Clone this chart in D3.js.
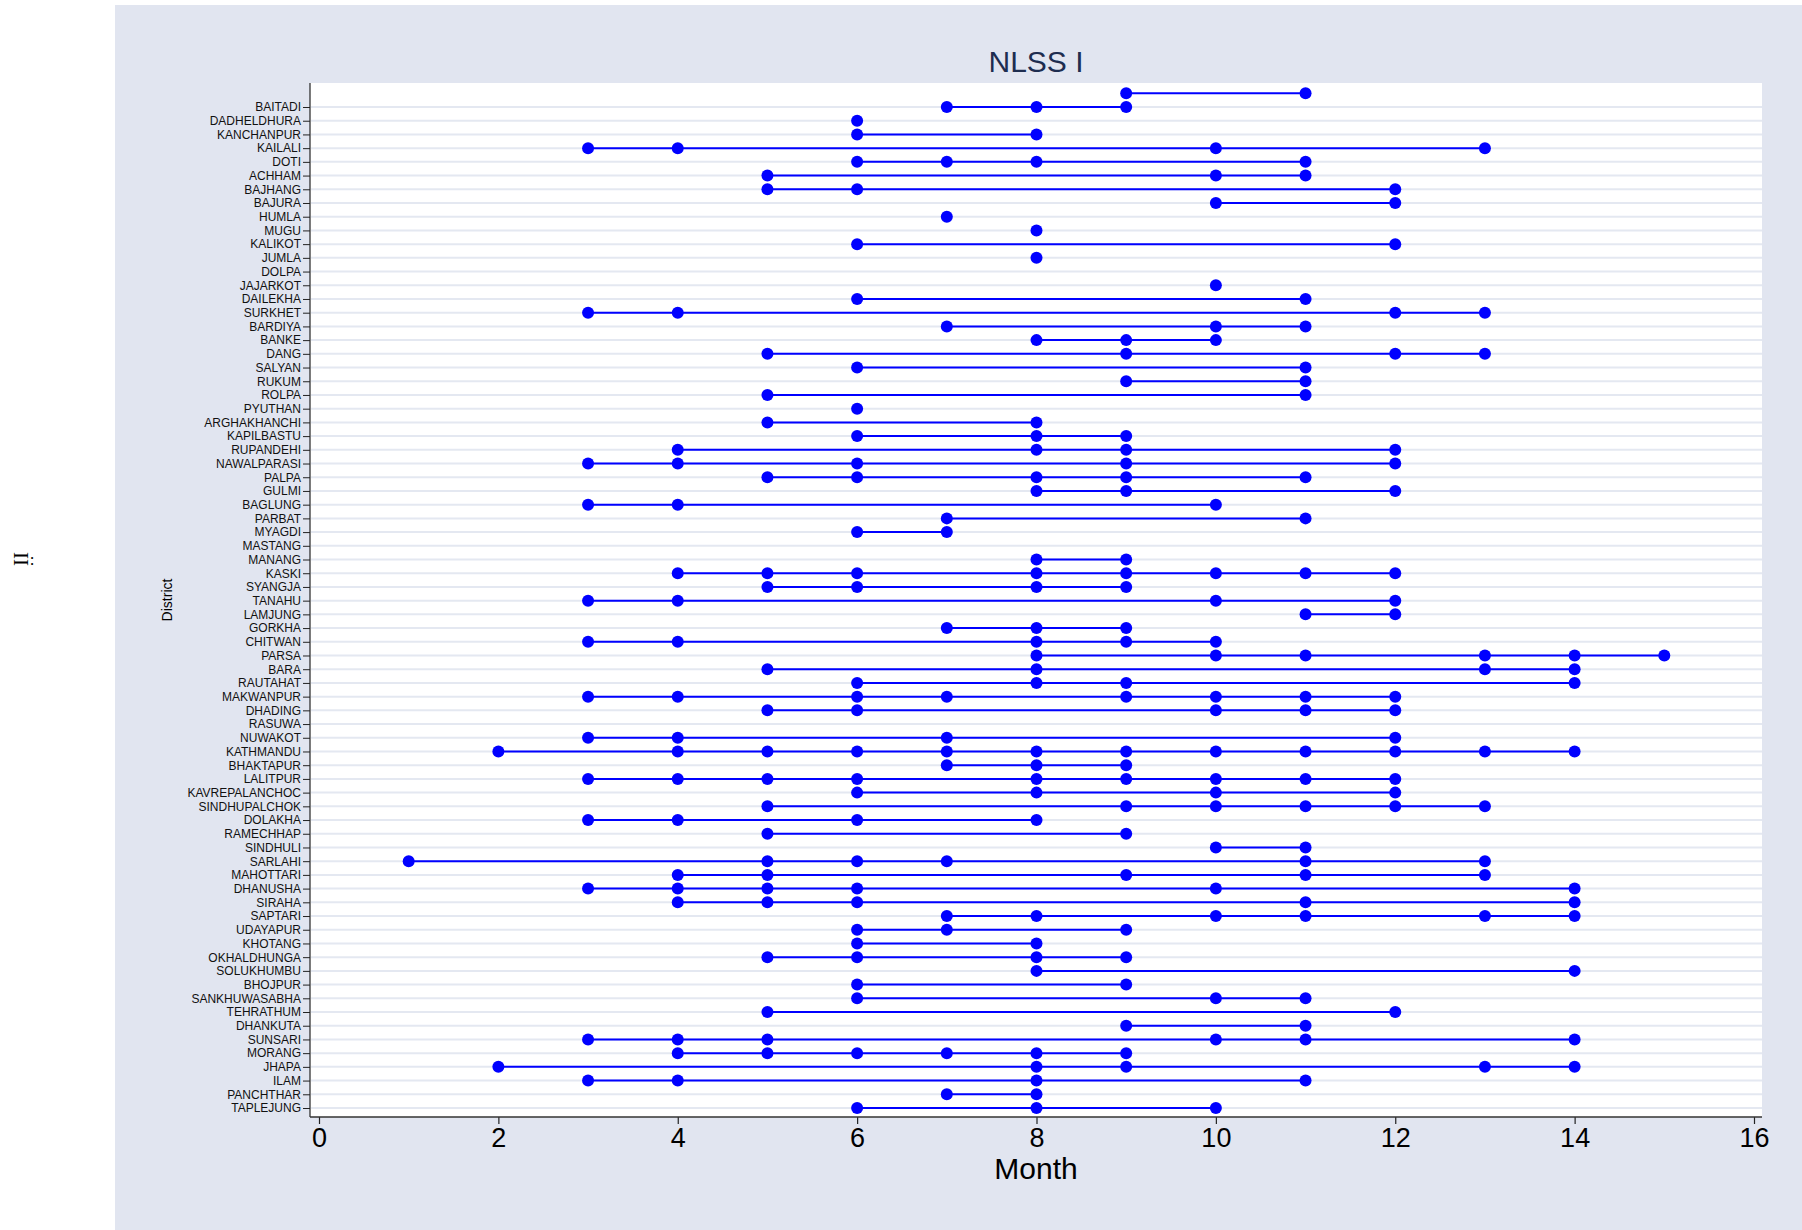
<!DOCTYPE html>
<html>
<head>
<meta charset="utf-8">
<script src="https://cdn.jsdelivr.net/npm/d3@7"></script>
<style>
  html, body { margin: 0; padding: 0; background: #ffffff; }
  svg { display: block; }
</style>
</head>
<body>
<script>
// ---- DATA ----
const districts = ["", "BAITADI", "DADHELDHURA", "KANCHANPUR", "KAILALI", "DOTI", "ACHHAM", "BAJHANG", "BAJURA",
  "HUMLA", "MUGU", "KALIKOT", "JUMLA", "DOLPA", "JAJARKOT", "DAILEKHA", "SURKHET", "BARDIYA", "BANKE",
  "DANG", "SALYAN", "RUKUM", "ROLPA", "PYUTHAN", "ARGHAKHANCHI", "KAPILBASTU", "RUPANDEHI", "NAWALPARASI",
  "PALPA", "GULMI", "BAGLUNG", "PARBAT", "MYAGDI", "MASTANG", "MANANG", "KASKI", "SYANGJA", "TANAHU",
  "LAMJUNG", "GORKHA", "CHITWAN", "PARSA", "BARA", "RAUTAHAT", "MAKWANPUR", "DHADING", "RASUWA", "NUWAKOT",
  "KATHMANDU", "BHAKTAPUR", "LALITPUR", "KAVREPALANCHOC", "SINDHUPALCHOK", "DOLAKHA", "RAMECHHAP",
  "SINDHULI", "SARLAHI", "MAHOTTARI", "DHANUSHA", "SIRAHA", "SAPTARI", "UDAYAPUR", "KHOTANG",
  "OKHALDHUNGA", "SOLUKHUMBU", "BHOJPUR", "SANKHUWASABHA", "TEHRATHUM", "DHANKUTA", "SUNSARI",
  "MORANG", "JHAPA", "ILAM", "PANCHTHAR", "TAPLEJUNG"];

const months = [
  [9, 11],                 // (no label)
  [7, 8, 9],               // BAITADI
  [6],                     // DADHELDHURA
  [6, 8],                  // KANCHANPUR
  [3, 4, 10, 13],          // KAILALI
  [6, 7, 8, 11],           // DOTI
  [5, 10, 11],             // ACHHAM
  [5, 6, 12],              // BAJHANG
  [10, 12],                // BAJURA
  [7],                     // HUMLA
  [8],                     // MUGU
  [6, 12],                 // KALIKOT
  [8],                     // JUMLA
  [],                      // DOLPA
  [10],                    // JAJARKOT
  [6, 11],                 // DAILEKHA
  [3, 4, 12, 13],          // SURKHET
  [7, 10, 11],             // BARDIYA
  [8, 9, 10],              // BANKE
  [5, 9, 12, 13],          // DANG
  [6, 11],                 // SALYAN
  [9, 11],                 // RUKUM
  [5, 11],                 // ROLPA
  [6],                     // PYUTHAN
  [5, 8],                  // ARGHAKHANCHI
  [6, 8, 9],               // KAPILBASTU
  [4, 8, 9, 12],           // RUPANDEHI
  [3, 4, 6, 9, 12],        // NAWALPARASI
  [5, 6, 8, 9, 11],        // PALPA
  [8, 9, 12],              // GULMI
  [3, 4, 10],              // BAGLUNG
  [7, 11],                 // PARBAT
  [6, 7],                  // MYAGDI
  [],                      // MASTANG
  [8, 9],                  // MANANG
  [4, 5, 6, 8, 9, 10, 11, 12], // KASKI
  [5, 6, 8, 9],            // SYANGJA
  [3, 4, 10, 12],          // TANAHU
  [11, 12],                // LAMJUNG
  [7, 8, 9],               // GORKHA
  [3, 4, 8, 9, 10],        // CHITWAN
  [8, 10, 11, 13, 14, 15], // PARSA
  [5, 8, 13, 14],          // BARA
  [6, 8, 9, 14],           // RAUTAHAT
  [3, 4, 6, 7, 9, 10, 11, 12], // MAKWANPUR
  [5, 6, 10, 11, 12],      // DHADING
  [],                      // RASUWA
  [3, 4, 7, 12],           // NUWAKOT
  [2, 4, 5, 6, 7, 8, 9, 10, 11, 12, 13, 14], // KATHMANDU
  [7, 8, 9],               // BHAKTAPUR
  [3, 4, 5, 6, 8, 9, 10, 11, 12], // LALITPUR
  [6, 8, 10, 12],          // KAVREPALANCHOC
  [5, 9, 10, 11, 12, 13],  // SINDHUPALCHOK
  [3, 4, 6, 8],            // DOLAKHA
  [5, 9],                  // RAMECHHAP
  [10, 11],                // SINDHULI
  [1, 5, 6, 7, 11, 13],    // SARLAHI
  [4, 5, 9, 11, 13],       // MAHOTTARI
  [3, 4, 5, 6, 10, 14],    // DHANUSHA
  [4, 5, 6, 11, 14],       // SIRAHA
  [7, 8, 10, 11, 13, 14],  // SAPTARI
  [6, 7, 9],               // UDAYAPUR
  [6, 8],                  // KHOTANG
  [5, 6, 8, 9],            // OKHALDHUNGA
  [8, 14],                 // SOLUKHUMBU
  [6, 9],                  // BHOJPUR
  [6, 10, 11],             // SANKHUWASABHA
  [5, 12],                 // TEHRATHUM
  [9, 11],                 // DHANKUTA
  [3, 4, 5, 10, 11, 14],   // SUNSARI
  [4, 5, 6, 7, 8, 9],      // MORANG
  [2, 8, 9, 13, 14],       // JHAPA
  [3, 4, 8, 11],           // ILAM
  [7, 8],                  // PANCHTHAR
  [6, 8, 10]               // TAPLEJUNG
];

const xTicks = [0, 2, 4, 6, 8, 10, 12, 14, 16];
const titleText = "NLSS I";
const xTitle = "Month";
const yTitle = "District";
const sideNote = "II";

// ---- LAYOUT ----
const W = 1802, H = 1230;
const plot = { left: 310, right: 1762, top: 83, bottom: 1117 };
const font = "'Liberation Sans', Arial, Helvetica, sans-serif";
const blue = "#0000ff";

const svg = d3.select("body").append("svg")
  .attr("width", W).attr("height", H)
  .style("font-family", font);

// outer graph region
svg.append("rect").attr("x", 0).attr("y", 0).attr("width", W).attr("height", H).attr("fill", "#ffffff");
svg.append("rect").attr("x", 115).attr("y", 5).attr("width", W - 115).attr("height", H - 5).attr("fill", "#e1e5f0");
// plot region
svg.append("rect").attr("x", plot.left).attr("y", plot.top)
  .attr("width", plot.right - plot.left).attr("height", plot.bottom - plot.top).attr("fill", "#ffffff");

const x = d3.scaleLinear().domain([0, 16]).range([319, 1754]);
const y = d3.scalePoint().domain(districts).range([93.3, 1108]);

const labelled = districts.filter(d => d !== "");

// gridlines
svg.append("g").selectAll("line").data(labelled).join("line")
  .attr("x1", plot.left + 1).attr("x2", plot.right)
  .attr("y1", d => y(d)).attr("y2", d => y(d))
  .attr("stroke", "#e4e8f1").attr("stroke-width", 2);

// y axis
const yAxis = svg.append("g").attr("transform", `translate(${plot.left},0)`)
  .call(d3.axisLeft(y).tickValues(labelled).tickSize(7).tickPadding(2));
yAxis.select(".domain").remove();
yAxis.selectAll(".tick line").attr("stroke", "#222").attr("stroke-width", 1);
yAxis.selectAll(".tick text").attr("font-size", "12px").attr("font-family", font).attr("fill", "#111");
svg.append("line").attr("x1", plot.left).attr("x2", plot.left)
  .attr("y1", plot.top).attr("y2", plot.bottom).attr("stroke", "#222").attr("stroke-width", 1.2);

// x axis
const xAxis = svg.append("g").attr("transform", `translate(0,${plot.bottom})`)
  .call(d3.axisBottom(x).tickValues(xTicks).tickSize(7).tickPadding(4).tickFormat(d3.format("d")));
xAxis.select(".domain").remove();
xAxis.selectAll(".tick line").attr("stroke", "#222").attr("stroke-width", 1.2);
xAxis.selectAll(".tick text").attr("font-size", "27px").attr("font-family", font).attr("fill", "#000");
svg.append("line").attr("x1", plot.left).attr("x2", plot.right)
  .attr("y1", plot.bottom).attr("y2", plot.bottom).attr("stroke", "#333").attr("stroke-width", 1.5);

// range lines + markers
const rows = districts.map((d, i) => ({ d, vals: months[i] }));
const g = svg.append("g");
rows.forEach(r => {
  if (r.vals.length > 1) {
    g.append("path")
      .attr("d", d3.line().x(v => x(v)).y(() => y(r.d))(r.vals))
      .attr("fill", "none").attr("stroke", blue).attr("stroke-width", 2);
  }
});
rows.forEach(r => {
  g.selectAll(null).data(r.vals).join("circle")
    .attr("cx", v => x(v)).attr("cy", y(r.d)).attr("r", 6).attr("fill", blue);
});

// titles
svg.append("text").attr("x", (plot.left + plot.right) / 2).attr("y", 72)
  .attr("text-anchor", "middle").attr("font-size", "30px").attr("fill", "#1e2d50").text(titleText);
svg.append("text").attr("x", (plot.left + plot.right) / 2).attr("y", 1179)
  .attr("text-anchor", "middle").attr("font-size", "30px").attr("fill", "#000").text(xTitle);
svg.append("text").attr("transform", "translate(172,600) rotate(-90)")
  .attr("text-anchor", "middle").attr("font-size", "14px").attr("fill", "#000").text(yTitle);

// side note outside graph region
svg.append("text").attr("transform", "translate(28,559) rotate(-90)")
  .attr("text-anchor", "middle").attr("font-size", "21px")
  .attr("font-family", "'Liberation Serif', 'DejaVu Serif', serif").attr("fill", "#000").text(sideNote);
svg.append("text").attr("x", 32).attr("y", 565)
  .attr("text-anchor", "middle").attr("font-size", "17px")
  .attr("font-family", "'Liberation Serif', 'DejaVu Serif', serif").attr("fill", "#000").text(":");
</script>
</body>
</html>
